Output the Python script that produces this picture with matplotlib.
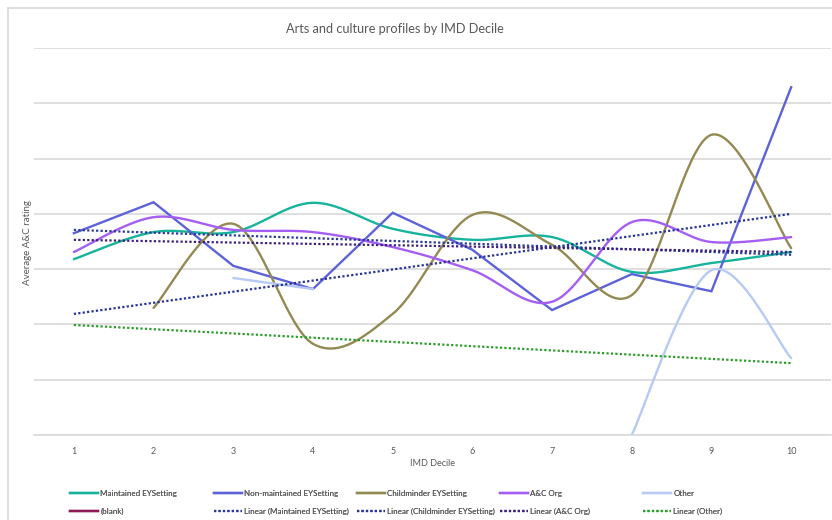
import numpy as np
import matplotlib
matplotlib.use("Agg")
import matplotlib.pyplot as plt
from matplotlib.lines import Line2D

plt.rcParams['font.family'] = ['Lato', 'DejaVu Sans']

# IMD deciles on the x axis
deciles = [1, 2, 3, 4, 5, 6, 7, 8, 9, 10]

# average A&C rating per decile (None = no data)
maintained = [3.18, 3.67, 3.67, 4.20, 3.73, 3.53, 3.58, 2.95, 3.11, 3.31]
non_maintained = [3.65, 4.21, 3.06, 2.64, 4.02, 3.35, 2.26, 2.91, 2.60, 6.29]
childminder = [None, 2.30, 3.82, 1.65, 2.19, 3.98, 3.44, 2.53, 5.43, 3.38]
ac_org = [3.31, 3.94, 3.71, 3.67, 3.40, 2.98, 2.41, 3.85, 3.49, 3.58]
other = [None, None, 2.84, 2.64, None, None, None, 0.0, 2.98, 1.39]

# linear trendlines, value at decile 1 and decile 10
trend_x = [1, 10]
trend_maintained = [3.71, 3.26]
trend_childminder = [2.19, 4.00]
trend_ac_org = [3.53, 3.31]
trend_other = [1.99, 1.30]

GREY = '#595959'
GRID = '#d9d9d9'


def excel_smooth(xs, ys, n=40):
    # bezier smoothing the way Excel's "smoothed line" does it
    pts = np.column_stack([xs, ys]).astype(float)
    out = []
    for i in range(len(pts) - 1):
        p0 = pts[max(i - 1, 0)]
        p1 = pts[i]
        p2 = pts[i + 1]
        p3 = pts[min(i + 2, len(pts) - 1)]
        c1 = p1 + (p2 - p0) / 6
        c2 = p2 - (p3 - p1) / 6
        t = np.linspace(0, 1, n)[:, None]
        seg = (1 - t) ** 3 * p1 + 3 * (1 - t) ** 2 * t * c1 + 3 * (1 - t) * t ** 2 * c2 + t ** 3 * p2
        out.append(seg if i == 0 else seg[1:])
    return np.vstack(out)


def runs(xs, ys):
    # split a series into runs of consecutive values
    cur_x, cur_y = [], []
    for x, y in zip(xs, ys):
        if y is None:
            if cur_x:
                yield cur_x, cur_y
            cur_x, cur_y = [], []
        else:
            cur_x.append(x)
            cur_y.append(y)
    if cur_x:
        yield cur_x, cur_y


def plot_series(ax, ys, color, smooth=True, lw=1.7):
    for rx, ry in runs(deciles, ys):
        if smooth and len(rx) > 1:
            c = excel_smooth(rx, ry)
            ax.plot(c[:, 0], c[:, 1], color=color, lw=lw, solid_capstyle='round')
        else:
            ax.plot(rx, ry, color=color, lw=lw, solid_joinstyle='miter')


fig = plt.figure(figsize=(8.32, 5.2), dpi=100)
ax = fig.add_axes([34 / 832, 85 / 520, 797 / 832, 387 / 520])

plot_series(ax, maintained, '#17b39c')
plot_series(ax, non_maintained, '#5e62d8', smooth=False)
plot_series(ax, childminder, '#938953')
plot_series(ax, ac_org, '#a45ef2')
plot_series(ax, other, '#b7c9f5')

dot = (0, (1, 1))
ax.plot(trend_x, trend_maintained, color='#2b3a9a', lw=1.6, linestyle=dot)
ax.plot(trend_x, trend_childminder, color='#27339a', lw=1.6, linestyle=dot)
ax.plot(trend_x, trend_ac_org, color='#3b1f7c', lw=1.6, linestyle=dot)
ax.plot(trend_x, trend_other, color='#2a9d2a', lw=1.6, linestyle=dot)

ax.set_xlim(0.5, 10.5)
ax.set_ylim(0, 7)
ax.set_xticks(deciles)
ax.set_xticklabels([str(d) for d in deciles])
ax.set_yticks(range(0, 8))
ax.set_yticklabels([])
ax.tick_params(axis='both', length=0, labelsize=6.5, labelcolor=GREY, pad=9)
ax.grid(axis='y', color=GRID, lw=1.2)
ax.set_axisbelow(True)
for side in ['top', 'right', 'left']:
    ax.spines[side].set_visible(False)
ax.spines['bottom'].set_color(GRID)
ax.spines['bottom'].set_linewidth(1.2)

fig.text(432 / 832, 1 - 463 / 520, 'IMD Decile', ha='center', va='center', fontsize=6.5, color=GREY)
fig.text(28 / 832, 1 - 243 / 520, 'Average A&C rating', ha='center', va='center',
         rotation=90, fontsize=7, color=GREY)
fig.text(395 / 832, 1 - 29 / 520, 'Arts and culture profiles by IMD Decile', ha='center', va='center',
         fontsize=9.2, color=GREY)

# chart frame (left and top edges visible)
fig.add_artist(Line2D([8 / 832, 8 / 832], [0, 1 - 8 / 520], color=GRID, lw=1.2))
fig.add_artist(Line2D([8 / 832, 1], [1 - 8 / 520, 1 - 8 / 520], color=GRID, lw=1.2))

# legend, laid out in five fixed-width columns like Excel
solid = lambda c: Line2D([], [], color=c, lw=1.7)
dotted = lambda c: Line2D([], [], color=c, lw=1.6, linestyle=dot)
columns = [
    (70, [(solid('#17b39c'), 'Maintained EYSetting'), (solid('#8e1a55'), '(blank)')]),
    (214, [(solid('#5e62d8'), 'Non-maintained EYSetting'), (dotted('#2b3a9a'), 'Linear (Maintained EYSetting)')]),
    (357, [(solid('#938953'), 'Childminder EYSetting'), (dotted('#27339a'), 'Linear (Childminder EYSetting)')]),
    (500, [(solid('#a45ef2'), 'A&C Org'), (dotted('#3b1f7c'), 'Linear (A&C Org)')]),
    (643, [(solid('#b7c9f5'), 'Other'), (dotted('#2a9d2a'), 'Linear (Other)')]),
]
for x0, items in columns:
    leg = fig.legend([h for h, _ in items], [l for _, l in items], loc='center left',
                     bbox_to_anchor=(x0 / 832, 1 - 502.5 / 520), frameon=False,
                     fontsize=5.8, handlelength=3.45, handletextpad=0.3,
                     labelspacing=1.35, borderpad=0, borderaxespad=0, labelcolor=GREY)
    fig.add_artist(leg)

fig.savefig('out.png', dpi=100)
